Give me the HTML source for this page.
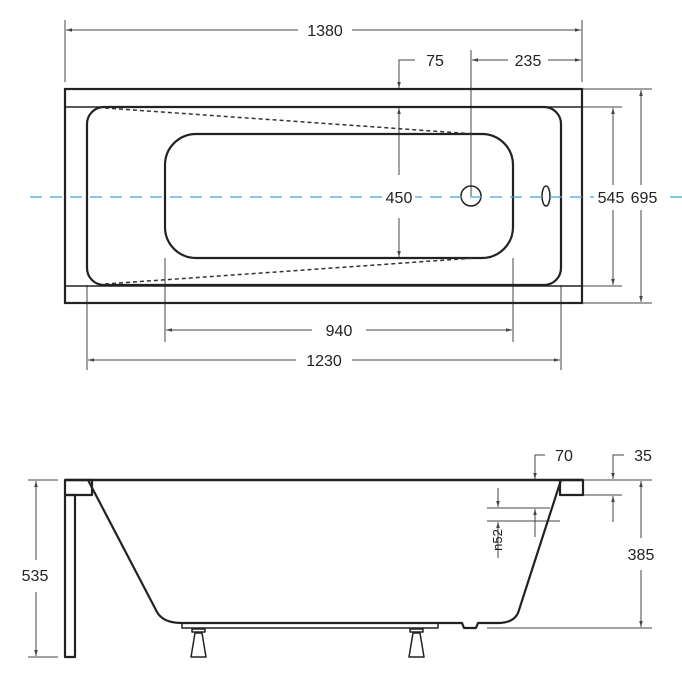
<!DOCTYPE html>
<html><head><style>
html,body{margin:0;padding:0;background:#fff;}
svg{display:block}
text{font-family:"Liberation Sans",sans-serif;font-size:16px;fill:#222;}
</style></head><body>
<svg width="682" height="686" viewBox="0 0 682 686" xmlns="http://www.w3.org/2000/svg">
<defs>
<marker id="a" viewBox="0 0 10 10" refX="10" refY="5" markerWidth="6" markerHeight="6" orient="auto-start-reverse"><path d="M0,2 L10,5 L0,8 z" fill="#444"/></marker>
</defs>
<g stroke="#444" stroke-width="1" fill="none">
<line x1="65" y1="20" x2="65" y2="82"/><line x1="582" y1="20" x2="582" y2="82"/>
<line x1="66" y1="30" x2="298" y2="30" marker-start="url(#a)"/><line x1="352" y1="30" x2="581" y2="30" marker-end="url(#a)"/>
<polyline points="415,60 399,60 399,88" marker-end="url(#a)"/>
<line x1="399" y1="175" x2="399" y2="108" marker-end="url(#a)"/>
<line x1="399" y1="218" x2="399" y2="257" marker-end="url(#a)"/>
<line x1="471" y1="50" x2="471" y2="196"/>
<line x1="472" y1="60" x2="508" y2="60" marker-start="url(#a)"/><line x1="548" y1="60" x2="581" y2="60" marker-end="url(#a)"/>
<line x1="582" y1="107" x2="622" y2="107"/><line x1="582" y1="286" x2="622" y2="286"/>
<line x1="582" y1="89" x2="652" y2="89"/><line x1="582" y1="303" x2="652" y2="303"/>
<line x1="613" y1="108" x2="613" y2="185" marker-start="url(#a)"/><line x1="613" y1="210" x2="613" y2="285" marker-end="url(#a)"/>
<line x1="641" y1="90" x2="641" y2="185" marker-start="url(#a)"/><line x1="641" y1="210" x2="641" y2="302" marker-end="url(#a)"/>
<line x1="165" y1="258" x2="165" y2="342"/><line x1="513" y1="258" x2="513" y2="342"/>
<line x1="87" y1="285" x2="87" y2="370"/><line x1="561" y1="285" x2="561" y2="370"/>
<line x1="166" y1="330" x2="312" y2="330" marker-start="url(#a)"/><line x1="366" y1="330" x2="512" y2="330" marker-end="url(#a)"/>
<line x1="88" y1="360" x2="296" y2="360" marker-start="url(#a)"/><line x1="352" y1="360" x2="560" y2="360" marker-end="url(#a)"/>
</g>
<g stroke="#222" stroke-width="2.2" fill="none">
<rect x="65" y="89" width="517" height="214"/>
<line x1="65" y1="107" x2="582" y2="107" stroke-width="1.5"/>
<line x1="65" y1="286" x2="582" y2="286" stroke-width="1.5"/>
<rect x="87" y="107" width="474" height="178" rx="17"/>
<rect x="165" y="134" width="348" height="124" rx="31"/>
<circle cx="471" cy="196" r="10" stroke-width="1.5"/>
<ellipse cx="546" cy="196" rx="4" ry="10" stroke-width="1.5"/>
</g>
<g stroke="#333" stroke-width="1.5" stroke-dasharray="4,3" fill="none">
<line x1="105" y1="108" x2="475" y2="134"/>
<line x1="105" y1="284" x2="475" y2="258"/>
</g>
<line x1="30" y1="197" x2="682" y2="197" stroke="#3aa6cf" stroke-width="1.3" stroke-dasharray="12,8"/>
<rect x="383" y="188" width="32" height="18" fill="#fff"/>
<rect x="594" y="188" width="68" height="18" fill="#fff"/>
<text x="325" y="36" text-anchor="middle">1380</text>
<text x="435" y="66" text-anchor="middle">75</text>
<text x="528" y="66" text-anchor="middle">235</text>
<text x="399" y="203" text-anchor="middle">450</text>
<text x="611" y="203" text-anchor="middle">545</text>
<text x="644" y="203" text-anchor="middle">695</text>
<text x="339" y="336" text-anchor="middle">940</text>
<text x="324" y="366" text-anchor="middle">1230</text>

<g stroke="#444" stroke-width="1" fill="none">
<line x1="28" y1="480" x2="58" y2="480"/><line x1="28" y1="657" x2="58" y2="657"/>
<line x1="36" y1="481" x2="36" y2="560" marker-start="url(#a)"/><line x1="36" y1="592" x2="36" y2="656" marker-end="url(#a)"/>
<line x1="583" y1="480" x2="652" y2="480"/><line x1="487" y1="628" x2="652" y2="628"/>
<line x1="641" y1="481" x2="641" y2="538" marker-start="url(#a)"/><line x1="641" y1="570" x2="641" y2="627" marker-end="url(#a)"/>
<polyline points="545,455 535,455 535,479" marker-end="url(#a)"/>
<polyline points="624,455 613,455 613,479" marker-end="url(#a)"/>
<line x1="583" y1="495" x2="622" y2="495"/>
<line x1="613" y1="522" x2="613" y2="496" marker-end="url(#a)"/>
<line x1="487" y1="508" x2="550" y2="508"/><line x1="487" y1="521" x2="560" y2="521"/>
<line x1="498" y1="488" x2="498" y2="507" marker-end="url(#a)"/>
<line x1="498" y1="558" x2="498" y2="522" marker-end="url(#a)"/>
<line x1="535" y1="537" x2="535" y2="509" marker-end="url(#a)"/>
</g>
<g stroke="#222" stroke-width="2.2" fill="none" stroke-linejoin="round">
<line x1="65" y1="480" x2="583" y2="480" stroke-width="2.5"/>
<rect x="65" y="480" width="27" height="15"/>
<rect x="65" y="495" width="10" height="162"/>
<rect x="560" y="480" width="23" height="15"/>
<path d="M88,480 L157,612 Q163,623 182,623 L462,623 L464,628 L476,628 L478,623 L500,623 Q516,622 519,610 L561,480"/>
<rect x="182" y="623" width="256" height="5" stroke-width="1.5"/>
<path d="M192,629 h13 v3 h-13 z M195,633 h7 l4,24 h-15 z" stroke-width="1.5"/>
<path d="M410,629 h13 v3 h-13 z M413,633 h7 l4,24 h-15 z" stroke-width="1.5"/>
</g>
<text x="35" y="581" text-anchor="middle">535</text>
<text x="641" y="560" text-anchor="middle">385</text>
<text x="564" y="461" text-anchor="middle">70</text>
<text x="643" y="461" text-anchor="middle">35</text>
<text x="498" y="540" text-anchor="middle" transform="rotate(-90 498 540)" dy="4" style="font-size:13px">n52</text>
</svg>
</body></html>
